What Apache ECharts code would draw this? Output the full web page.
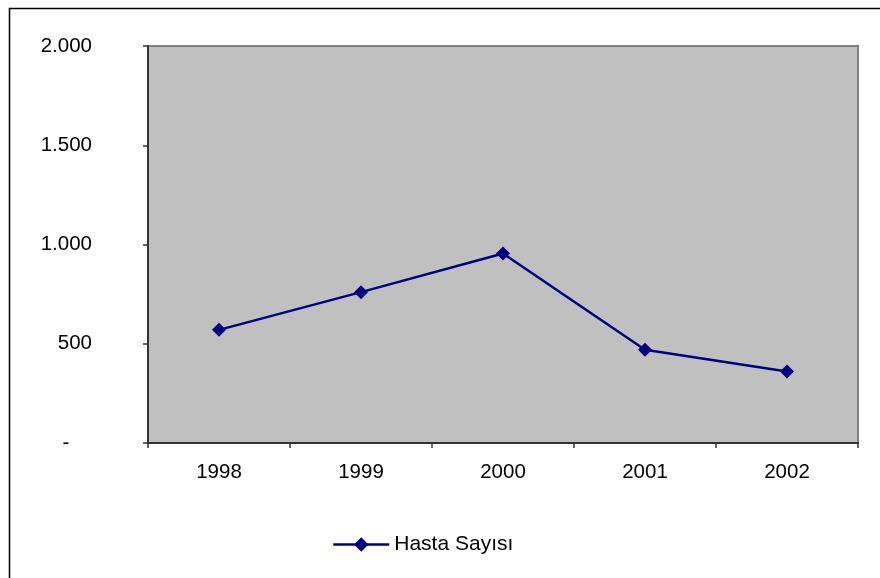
<!DOCTYPE html>
<html>
<head>
<meta charset="utf-8">
<script src="https://cdn.jsdelivr.net/npm/echarts@6/dist/echarts.min.js"></script>
<style>
html,body{margin:0;padding:0;background:#fff;}
#chart{width:880px;height:578px;}
</style>
</head>
<body>
<div id="chart"></div>
<script>
const categories = ['1998', '1999', '2000', '2001', '2002'];
const hastaSayisi = [570, 760, 955, 470, 360];
const seriesName = 'Hasta Sayısı';
const yMin = 0, yMax = 2000, yStep = 500;

function fmt(v) {
  if (v === 0) return '-    ';
  return String(v).replace(/\B(?=(\d{3})+(?!\d))/g, '.');
}

const FONT = '"Liberation Sans", Arial, sans-serif';
const chart = echarts.init(document.getElementById('chart'));
chart.setOption({
  animation: false,
  backgroundColor: '#ffffff',
  graphic: [{
    type: 'rect', left: 7, top: 6, z: 100,
    shape: { x: 0, y: 0, width: 1000, height: 1000 },
    style: { fill: 'none', stroke: '#000', lineWidth: 1.5 }
  }],
  grid: {
    left: 148, top: 46, width: 710, height: 397,
    show: true, backgroundColor: '#C0C0C0', borderColor: '#808080', borderWidth: 2
  },
  legend: {
    data: [seriesName],
    left: 327, top: 529,
    itemWidth: 56, itemHeight: 18, itemGap: 7,
    itemStyle: { color: '#000080' },
    lineStyle: { color: '#000080', width: 2.5 },
    textStyle: { fontFamily: FONT, fontSize: 21, color: '#000' }
  },
  xAxis: {
    type: 'category', data: categories, boundaryGap: true,
    axisLine: { lineStyle: { color: '#333', width: 2 } },
    axisTick: { show: true, length: 5, lineStyle: { color: '#333', width: 1.5 } },
    axisLabel: { fontFamily: FONT, fontSize: 20.5, color: '#000', margin: 19 },
    splitLine: { show: false }
  },
  yAxis: {
    type: 'value', min: yMin, max: yMax, interval: yStep,
    axisLine: { show: true, lineStyle: { color: '#333', width: 2 } },
    axisTick: { show: true, length: 5, lineStyle: { color: '#333', width: 1.5 } },
    axisLabel: { fontFamily: FONT, fontSize: 20.5, color: '#000', margin: 56, formatter: fmt },
    splitLine: { show: false }
  },
  series: [{
    name: seriesName, type: 'line', data: hastaSayisi,
    symbol: 'diamond', symbolSize: 14, showSymbol: true,
    lineStyle: { color: '#000080', width: 2.5 },
    itemStyle: { color: '#000080' }
  }]
});
</script>
</body>
</html>
